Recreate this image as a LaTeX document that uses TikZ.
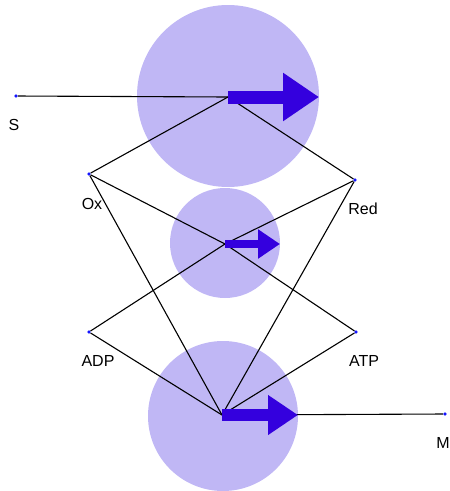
\documentclass[tikz,border=0pt]{standalone}
\usepackage{fontspec}
\setmainfont{Liberation Sans}
\usetikzlibrary{arrows.meta}
\definecolor{PoolLilac}{RGB}{192,183,245}
\definecolor{FluxBlue}{RGB}{52,0,222}
\definecolor{DotBlue}{RGB}{20,20,255}
\tikzset{
  pt/.style={circle,fill=DotBlue,inner sep=0pt,minimum size=3.2pt},
  pool/.style={fill=PoolLilac,draw=none},
  link/.style={draw=black,line width=1.1pt},
  lab/.style={font=\fontsize{16}{19}\selectfont,inner sep=0pt},
}

\begin{document}
\begin{tikzpicture}[x=1pt,y=-1pt]
  \useasboundingbox (0,0) rectangle (450,491);
  % pools
  \fill[pool] (228,96) circle (91);
  \fill[pool] (225,243) circle (55);
  \fill[pool] (223,416) circle (75);
  % hubs and species
  \coordinate (top) at (228,97);
  \coordinate (mid) at (225,244);
  \coordinate (bot) at (222,415);
  \node[pt] (S) at (16,96) {};
  \node[pt] (Ox) at (89,174) {};
  \node[pt] (Red) at (355,180) {};
  \node[pt] (ADP) at (89,332) {};
  \node[pt] (ATP) at (356,332) {};
  \node[pt] (M) at (445,414) {};
  \node[lab] (Slab) at (14,125) {S};
  \node[lab] (Oxlab) at (92,204) {Ox};
  \node[lab] (Redlab) at (363,209) {Red};
  \node[lab] (ADPlab) at (98,361) {ADP};
  \node[lab] (ATPlab) at (364,361) {ATP};
  \node[lab] (Mlab) at (443,443) {M};
  % connectors
  \draw[link] (S)--(top);
  \draw[link] (top)--(Ox);
  \draw[link] (top)--(Red);
  \foreach \i in {Ox,Red,ADP,ATP}
    \draw[link] (\i)--(mid);
  \foreach \i in {Ox,Red,ADP,ATP}
    \draw[link] (\i)--(bot);
  \draw[link] (bot)--(M);
  % fluxes
  \draw[FluxBlue,line width=13pt,-{Triangle[length=36pt,width=46pt]}]
    (top)--++(91,0);
  \draw[FluxBlue,line width=8pt,-{Triangle[length=22pt,width=28pt]}]
    (mid)--++(55,0);
  \draw[FluxBlue,line width=12pt,-{Triangle[length=30pt,width=38pt]}]
    (bot)--++(76,0);
  \foreach \i in {S,Ox,Red,ADP,ATP,M}
    \node[pt] at (\i) {};
\end{tikzpicture}
\end{document}
